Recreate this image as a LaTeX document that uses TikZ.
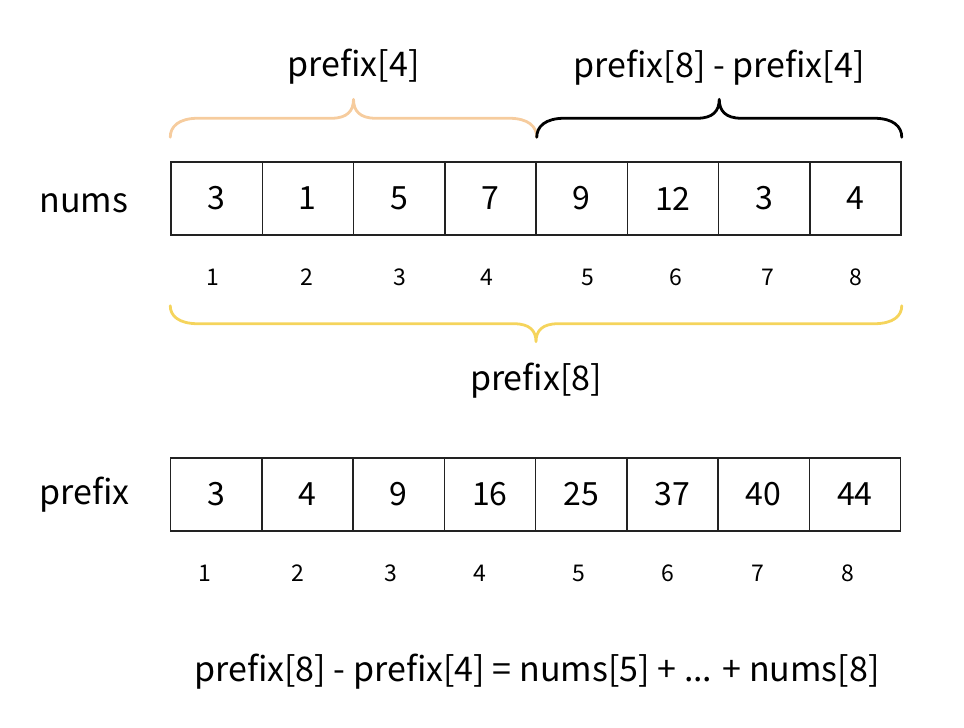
\documentclass[tikz,border=0pt]{standalone}
\usepackage{fontspec}
\setmainfont{Noto Sans CJK KR}
\usetikzlibrary{positioning, calc}

\definecolor{bracepeach}{HTML}{F6CC9E}
\definecolor{braceyellow}{HTML}{F5D45C}
\definecolor{cellline}{HTML}{222222}

% curly brace from #2 to #3, rising by #4 (negative = downwards)
\newcommand{\bracepath}[4]{%
  \draw[#1] (#2) .. controls ($(#2)+(0,{0.55*(#4)})$) and ($(#2)+(8,#4)$) .. ($(#2)+(28,#4)$)
    -- ($(#2)!0.5!(#3)+(-22,#4)$)
    .. controls ($(#2)!0.5!(#3)+(-6,#4)$) and ($(#2)!0.5!(#3)+(0,{1.4*(#4)})$) .. ($(#2)!0.5!(#3)+(0,{2*(#4)})$)
    .. controls ($(#2)!0.5!(#3)+(0,{1.4*(#4)})$) and ($(#2)!0.5!(#3)+(6,#4)$) .. ($(#2)!0.5!(#3)+(22,#4)$)
    -- ($(#3)+(-28,#4)$)
    .. controls ($(#3)+(-8,#4)$) and ($(#3)+(0,{0.55*(#4)})$) .. (#3);%
}

\begin{document}
\begin{tikzpicture}[x=1pt, y=1pt,
    cellbox/.style={draw=cellline, line width=1.5pt, minimum width=91.25pt,
      minimum height=73pt, inner sep=0pt, font=\fontsize{32}{36}\selectfont},
    idxlabel/.style={font=\fontsize{23}{27}\selectfont},
    rowname/.style={inner sep=0pt, font=\fontsize{34}{40}\selectfont},
    bracelabel/.style={inner sep=0pt, font=\fontsize{34}{40}\selectfont},
    bracestroke/.style={line width=2.8pt, line cap=round, line join=round}]

  \useasboundingbox (0,0) rectangle (964,728);

  % --- nums row ---
  \foreach \v [count=\i] in {3,1,5,7,9,12,3,4} {
    \node[cellbox] (n\i) at ({171+91.25*(\i-0.5)}, 529.5) {\v};
  }
  \node[rowname, left=42pt of n1, yshift=-5pt] (numsname) {nums};
  \foreach \i/\x in {1/213, 2/307, 3/400, 4/487, 5/588, 6/676, 7/768, 8/856} {
    \node[idxlabel] (ni\i) at (\x, 451) {\i};
  }

  % --- prefix row ---
  \foreach \v [count=\i] in {3,4,9,16,25,37,40,44} {
    \node[cellbox] (p\i) at ({170.5+91.25*(\i-0.5)}, 233.5) {\v};
  }
  \node[rowname, left=40pt of p1] (prefixname) {prefix};
  \foreach \i/\x in {1/205, 2/298, 3/391, 4/480, 5/579, 6/668, 7/758, 8/848} {
    \node[idxlabel] (pi\i) at (\x, 155) {\i};
  }

  % --- braces ---
  \coordinate (ql) at ($(n1.north west)+(0,24)$);
  \coordinate (qm) at ($(n4.north east)+(0,24)$);
  \coordinate (qr) at ($(n8.north east)+(0,24)$);
  \coordinate (bl) at ($(n1.south west)+(0,-70)$);
  \coordinate (br) at ($(n8.south east)+(0,-70)$);

  \bracepath{bracestroke, bracepeach}{ql}{qm}{19}
  \bracepath{bracestroke, black}{qm}{qr}{19}
  \bracepath{bracestroke, braceyellow}{bl}{br}{-18}

  \node[bracelabel] (lbl4) at ($(ql)!0.5!(qm)+(0,71)$) {prefix[4]};
  \node[bracelabel] (lbl84) at ($(qm)!0.5!(qr)+(0,70)$) {prefix[8] - prefix[4]};
  \node[bracelabel] (lbl8) at ($(bl)!0.5!(br)+(0,-75)$) {prefix[8]};

  % --- identity ---
  \node[bracelabel] (formula) at (537,56) {prefix[8] - prefix[4] = nums[5] + ... + nums[8]};
\end{tikzpicture}
\end{document}
